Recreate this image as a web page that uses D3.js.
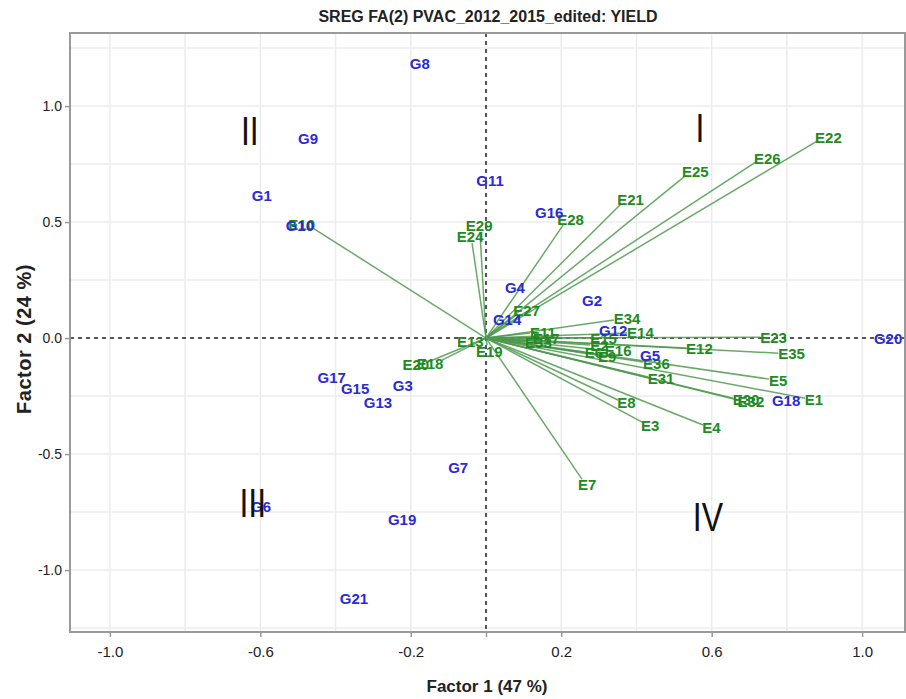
<!DOCTYPE html>
<meta charset="utf-8">
<html>
  <head>
    <title>SREG FA(2) biplot</title>
    <style>
      body { margin: 0; background: #fff; font-family: "Liberation Sans", Arial, sans-serif; }
    </style>
  </head>
  <body>
    <div id="biplot"></div>
    <script src="https://d3js.org/d3.v7.min.js"></script>
    <script>

      // genotype scores (blue labels)
      const genoNames = ["G1","G2","G3","G4","G5","G6","G7","G8","G9","G10","G11",
                         "G12","G13","G14","G15","G16","G17","G18","G19","G20","G21"];
      const genoX = [-0.596, 0.282, -0.221, 0.077, 0.436, -0.598, -0.074, -0.176, -0.473, -0.495, 0.011,
                      0.338, -0.287, 0.056, -0.348, 0.168, -0.410, 0.798, -0.223, 1.069, -0.351];
      const genoY = [0.616, 0.164, -0.203, 0.220, -0.073, -0.728, -0.560, 1.185, 0.862, 0.487, 0.681,
                      0.034, -0.276, 0.078, -0.216, 0.543, -0.172, -0.267, -0.780, 0.000, -1.121];

      // environment scores (green vectors)
      const envNames = ["E1","E2","E3","E4","E5","E6","E7","E8","E9","E10","E11","E12",
                        "E13","E14","E15","E16","E17","E18","E19","E20","E21","E22","E23","E24",
                        "E25","E26","E27","E28","E29","E30","E31","E32","E33","E34","E35","E36"];
      const envX = [0.848, 0.277, 0.415, 0.577, 0.753, 0.263, 0.255, 0.351, 0.298, -0.460, 0.117, 0.532,
                    -0.008, 0.375, 0.277, 0.316, 0.125, -0.117, 0.003, -0.154, 0.359, 0.880, 0.729, -0.037,
                    0.529, 0.718, 0.080, 0.205, -0.016, 0.657, 0.431, 0.670, 0.104, 0.340, 0.777, 0.418];
      const envY = [-0.259, -0.030, -0.362, -0.375, -0.177, -0.060, -0.608, -0.267, -0.073, 0.474, 0.022, -0.043,
                    -0.004, 0.022, 0.000, -0.052, 0.000, -0.095, -0.030, -0.103, 0.578, 0.849, 0.004, 0.409,
                    0.698, 0.759, 0.099, 0.487, 0.457, -0.259, -0.168, -0.267, -0.017, 0.078, -0.065, -0.103];

      // quadrant labels
      const quadNames = ["I", "II", "III", "IV"];
      const quadX = [0.569, -0.628, -0.620, 0.590];
      const quadY = [0.905, 0.892, -0.711, -0.772];

      const xTicks = [-1.0, -0.6, -0.2, 0, 0.2, 0.6, 1.0];
      const yTicks = [-1.0, -0.5, 0, 0.5, 1.0];
      const xGrid = d3.range(-10, 11, 2).map(d => d / 10);
      const yGrid = [-1.25, -1.0, -0.75, -0.5, -0.25, 0.25, 0.5, 0.75, 1.0, 1.25];

      const margin = {top: 33, right: 1, bottom: 67, left: 70},
          width = 906 - margin.left - margin.right,
          height = 699 - margin.top - margin.bottom;

      const root = d3.select("#biplot")
        .append("svg")
          .attr("width", 906)
          .attr("height", 699);

      const svg = root.append("g")
          .attr("transform", `translate(${margin.left}, ${margin.top})`);

      const xScale = d3.scaleLinear().domain([-1.106, 1.114]).range([0, width]);
      const yScale = d3.scaleLinear().domain([-1.267, 1.315]).range([height, 0]);

      // grid
      svg.selectAll(".gx").data(xGrid.filter(d => d !== 0)).join("line")
          .attr("x1", d => xScale(d)).attr("x2", d => xScale(d))
          .attr("y1", 0).attr("y2", height)
          .attr("stroke", "#ececec").attr("stroke-width", 1.5);
      svg.selectAll(".gy").data(yGrid).join("line")
          .attr("y1", d => yScale(d)).attr("y2", d => yScale(d))
          .attr("x1", 0).attr("x2", width)
          .attr("stroke", "#ececec").attr("stroke-width", 1.5);

      // zero reference lines
      svg.append("line")
          .attr("x1", xScale(0)).attr("x2", xScale(0)).attr("y1", 0).attr("y2", height)
          .attr("stroke", "#555").attr("stroke-width", 2).attr("stroke-dasharray", "4,4");
      svg.append("line")
          .attr("y1", yScale(0)).attr("y2", yScale(0)).attr("x1", 0).attr("x2", width)
          .attr("stroke", "#555").attr("stroke-width", 2).attr("stroke-dasharray", "4,4");

      // axes
      const xAxis = svg.append("g")
          .attr("transform", `translate(0, ${height})`)
          .call(d3.axisBottom(xScale).tickValues(xTicks).tickSize(5).tickPadding(9)
                .tickFormat(d => d === 0 ? "" : d.toFixed(1)));
      xAxis.selectAll("text")
          .style("font-family", "'Liberation Sans Narrow', 'Arial Narrow', sans-serif")
          .style("font-size", "15px").attr("fill", "#222");

      const yAxis = svg.append("g")
          .call(d3.axisLeft(yScale).tickValues(yTicks).tickSize(5).tickPadding(3)
                .tickFormat(d => d.toFixed(1)));
      yAxis.selectAll("text")
          .style("font-family", "'Liberation Sans', Arial, sans-serif")
          .style("font-size", "14px").attr("fill", "#222");

      [xAxis, yAxis].forEach(a => {
        a.select(".domain").remove();
        a.selectAll(".tick line").attr("stroke", "#999").attr("stroke-width", 1.5);
      });

      // frame
      svg.append("rect")
          .attr("x", 0).attr("y", 0).attr("width", width).attr("height", height)
          .attr("fill", "none").attr("stroke", "#9a9a9a").attr("stroke-width", 2);

      // environment vectors
      const env = envNames.map((n, i) => ({name: n, x: envX[i], y: envY[i]}));
      svg.selectAll(".env").data(env).join("line")
          .attr("x1", xScale(0)).attr("y1", yScale(0))
          .attr("x2", d => xScale(d.x)).attr("y2", d => yScale(d.y))
          .attr("stroke", "#4f9a4f").attr("stroke-width", 1.5).attr("stroke-opacity", 0.85);

      // label sits just beyond the end of its vector
      const envLabels = svg.selectAll(".envlab").data(env).join("text")
          .text(d => d.name)
          .attr("text-anchor", "middle")
          .attr("dominant-baseline", "central")
          .attr("fill", "#218a21")
          .style("font-weight", "bold")
          .style("font-size", "15px");
      envLabels.each(function(d) {
        const w = this.getComputedTextLength() / 2, h = 7;
        const dx = xScale(d.x) - xScale(0), dy = yScale(d.y) - yScale(0);
        const len = Math.hypot(dx, dy) || 1;
        d3.select(this)
          .attr("x", xScale(d.x) + w * dx / len)
          .attr("y", yScale(d.y) + h * dy / len);
      });

      // genotypes
      svg.selectAll(".geno").data(genoNames).join("text")
          .text(d => d)
          .attr("x", (d, i) => xScale(genoX[i]))
          .attr("y", (d, i) => yScale(genoY[i]))
          .attr("text-anchor", "middle")
          .attr("dominant-baseline", "central")
          .attr("fill", "#2a2ad8")
          .style("font-weight", "bold")
          .style("font-size", "15px");

      // quadrant numerals (narrow, like the original)
      svg.selectAll(".quad").data(quadNames).join("text")
          .text(d => d)
          .attr("transform", (d, i) => `translate(${xScale(quadX[i])}, ${yScale(quadY[i])}) scale(0.8, 1)`)
          .attr("text-anchor", "middle")
          .attr("dominant-baseline", "central")
          .attr("fill", "#111")
          .style("font-size", "40px");

      // titles
      root.append("text")
          .attr("x", 488).attr("y", 16)
          .attr("text-anchor", "middle").attr("dominant-baseline", "central")
          .style("font-weight", "bold").style("font-size", "16px").attr("fill", "#222")
          .text("SREG FA(2) PVAC_2012_2015_edited: YIELD");

      root.append("text")
          .attr("x", 487).attr("y", 686)
          .attr("text-anchor", "middle").attr("dominant-baseline", "central")
          .style("font-weight", "bold").style("font-size", "17px").attr("fill", "#222")
          .text("Factor 1 (47 %)");

      root.append("text")
          .attr("transform", "translate(24, 339) rotate(-90)")
          .attr("text-anchor", "middle").attr("dominant-baseline", "central")
          .style("font-weight", "bold").style("font-size", "20px").attr("fill", "#222")
          .style("letter-spacing", "0.5px")
          .text("Factor 2 (24 %)");

    </script>
  </body>
</html>
